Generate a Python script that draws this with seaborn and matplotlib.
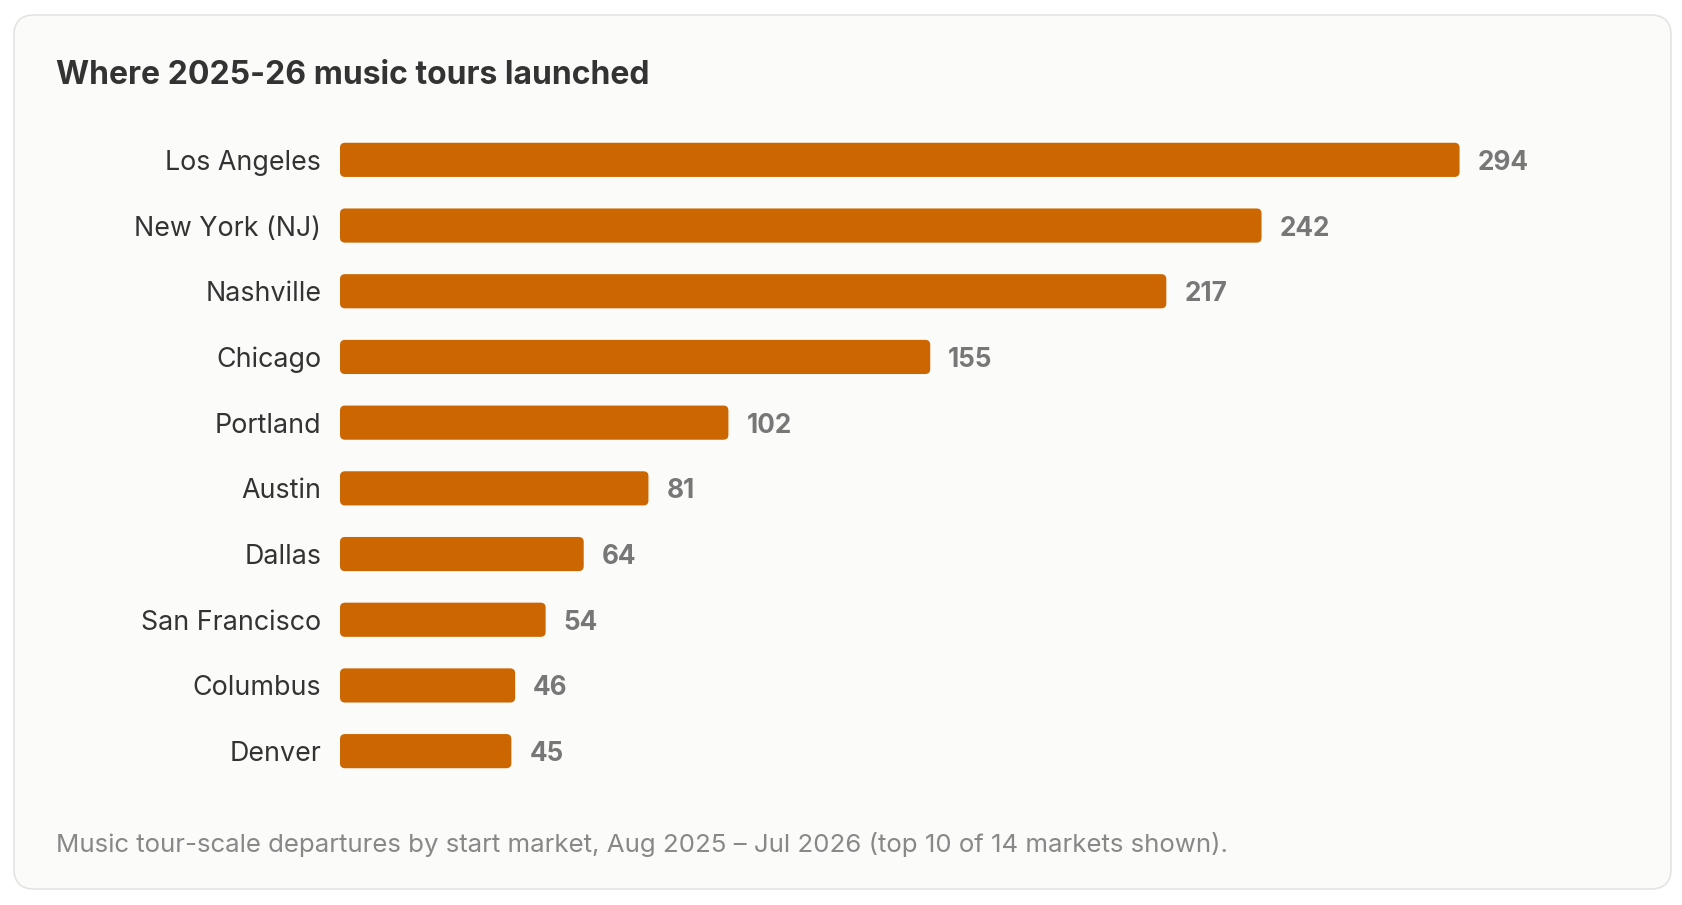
import seaborn as sns
import matplotlib.pyplot as plt
from matplotlib.patches import FancyBboxPatch

markets = ["Los Angeles", "New York (NJ)", "Nashville", "Chicago", "Portland",
           "Austin", "Dallas", "San Francisco", "Columbus", "Denver"]
departures = [294, 242, 217, 155, 102, 81, 64, 54, 46, 45]

title = "Where 2025-26 music tours launched"
note = ("Music tour-scale departures by start market, Aug 2025 \u2013 Jul 2026 "
        "(top 10 of 14 markets shown).")

bar_color = "#cc6600"

sns.set_theme(style="white")
plt.rcParams['font.family'] = ['Inter', 'DejaVu Sans']

W, H = 1683, 905
fig = plt.figure(figsize=(W / 100, H / 100), dpi=100)
fig.patch.set_facecolor("white")

# card background
card = FancyBboxPatch((14 / W, 16 / H), 1657 / W, 874 / H,
                      boxstyle="round,pad=0,rounding_size=0.012",
                      transform=fig.transFigure, facecolor="#fbfbf9",
                      edgecolor="#e4e4e2", linewidth=1.2,
                      mutation_aspect=W / H, zorder=-5)
fig.patches.append(card)

ax = fig.add_axes([340 / W, 1 - 784 / H, 1260 / W, (784 - 127) / H])
ax.set_facecolor("none")
ax.set_zorder(2)

sns.barplot(x=departures, y=markets, color=bar_color, width=0.52,
            orient="h", ax=ax, saturation=1)

ax.set_xlim(0, 1260 / 3.808)
ax.set_ylim(9.5, -0.5)

# swap plain bars for rounded ones
xpp = (ax.get_xlim()[1] - ax.get_xlim()[0]) / 1260
ypp = 10 / 657
for bar in list(ax.patches):
    x0, y0 = bar.get_x(), bar.get_y()
    w, h = bar.get_width(), bar.get_height()
    bar.set_visible(False)
    rb = FancyBboxPatch((x0, y0), w, h,
                        boxstyle=f"round,pad=0,rounding_size={5 * xpp}",
                        mutation_aspect=ypp / xpp,
                        facecolor=bar_color, edgecolor="none")
    ax.add_patch(rb)
    ax.annotate(f"{w:.0f}", (x0 + w, y0 + h / 2), xytext=(13, 0),
                textcoords="offset points", ha="left", va="center_baseline",
                fontsize=18.8, fontweight="bold", color="#777777")

for s in ax.spines.values():
    s.set_visible(False)
ax.set_xticks([])
ax.set_xlabel("")
ax.set_ylabel("")
ax.tick_params(axis="y", length=0, pad=13.5, labelsize=19.3, labelcolor="#333333")

fig.text(56 / W, 1 - 84 / H, title, fontsize=23, fontweight="bold",
         color="#333333", ha="left", va="baseline")
fig.text(56 / W, 1 - 852 / H, note, fontsize=18.6, color="#888888",
         ha="left", va="baseline")

plt.savefig("out.png", dpi=100)
